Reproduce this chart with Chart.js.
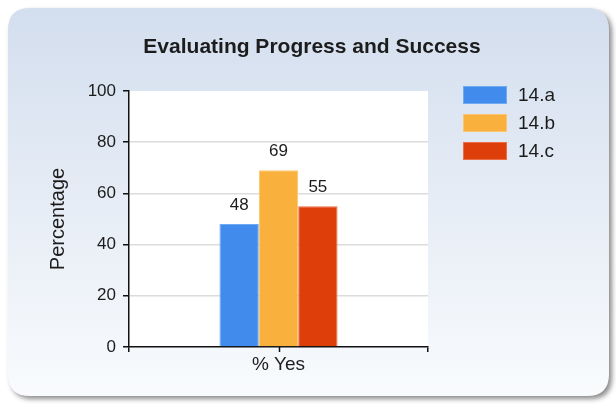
<!DOCTYPE html>
<html>
<head>
<meta charset="utf-8">
<script src="https://cdn.jsdelivr.net/npm/chart.js@4.4.1/dist/chart.umd.min.js"></script>
<style>
  html, body { margin: 0; padding: 0; background: #fff; }
  #wrap { width: 616px; height: 408px; }
</style>
</head>
<body>
<div id="wrap"><canvas id="chart" width="616" height="408"></canvas></div>
<script>
const chartTitle = "Evaluating Progress and Success";
const categories = ["% Yes"];
const seriesNames = ["14.a", "14.b", "14.c"];
const seriesA = [48];
const seriesB = [69];
const seriesC = [55];
const seriesColors = ["#418bec", "#f9b03d", "#de3f0a"];
const seriesEdges = ["#70aaf3", "#fcc670", "#ea6d45"];
const yTicks = [0, 20, 40, 60, 80, 100];
const yTitle = "Percentage";

const FONT = "'Liberation Sans', Arial, sans-serif";
const TEXT = "#1c1c1c";
const AXIS = "#111";

Chart.defaults.font.family = FONT;
Chart.defaults.color = TEXT;

function roundRect(ctx, x, y, w, h, r) {
  ctx.beginPath();
  ctx.moveTo(x + r, y);
  ctx.lineTo(x + w - r, y);
  ctx.quadraticCurveTo(x + w, y, x + w, y + r);
  ctx.lineTo(x + w, y + h - r);
  ctx.quadraticCurveTo(x + w, y + h, x + w - r, y + h);
  ctx.lineTo(x + r, y + h);
  ctx.quadraticCurveTo(x, y + h, x, y + h - r);
  ctx.lineTo(x, y + r);
  ctx.quadraticCurveTo(x, y, x + r, y);
  ctx.closePath();
}

// rounded panel with drop shadow, white plot area, title
const panel = {
  id: "panel",
  beforeDraw(chart) {
    const ctx = chart.ctx;
    const a = chart.chartArea;
    ctx.save();
    ctx.shadowColor = "rgba(0,0,0,0.45)";
    ctx.shadowBlur = 5;
    ctx.shadowOffsetX = 3;
    ctx.shadowOffsetY = 3;
    roundRect(ctx, 8, 8, 601, 388, 22);
    const g = ctx.createLinearGradient(0, 8, 0, 396);
    g.addColorStop(0, "#d3deee");
    g.addColorStop(1, "#f9fbfd");
    ctx.fillStyle = g;
    ctx.fill();
    ctx.restore();

    ctx.save();
    ctx.fillStyle = "#fff";
    ctx.fillRect(a.left, a.top, a.right - a.left, a.bottom - a.top);
    ctx.font = "bold 21px " + FONT;
    ctx.fillStyle = TEXT;
    ctx.textAlign = "center";
    ctx.textBaseline = "alphabetic";
    ctx.fillText(chartTitle, 312, 53);
    ctx.restore();
  },
  afterDraw(chart) {
    const ctx = chart.ctx;
    const a = chart.chartArea;
    const xs = chart.scales.x;
    ctx.save();
    // tick mark under each category
    ctx.strokeStyle = AXIS;
    ctx.lineWidth = 1.5;
    xs.ticks.forEach((t, i) => {
      const px = Math.round(xs.getPixelForTick(i)) + 0.5;
      ctx.beginPath();
      ctx.moveTo(px, a.bottom);
      ctx.lineTo(px, a.bottom + 5);
      ctx.stroke();
    });
    // legend
    ctx.font = "19px " + FONT;
    ctx.textAlign = "left";
    ctx.textBaseline = "middle";
    chart.data.datasets.forEach((ds, i) => {
      const y = 86 + i * 28;
      ctx.fillStyle = ds.backgroundColor;
      ctx.fillRect(463, y, 44, 18);
      ctx.strokeStyle = ds.borderColor;
      ctx.lineWidth = 1;
      ctx.strokeRect(463.5, y + 0.5, 43, 17);
      ctx.fillStyle = TEXT;
      ctx.fillText(ds.label, 518, y + 10);
    });
    ctx.restore();
  }
};

// value printed above each bar
const valueLabels = {
  id: "valueLabels",
  afterDatasetsDraw(chart) {
    const ctx = chart.ctx;
    ctx.save();
    ctx.font = "17px " + FONT;
    ctx.fillStyle = TEXT;
    ctx.textAlign = "center";
    ctx.textBaseline = "alphabetic";
    chart.data.datasets.forEach((ds, i) => {
      chart.getDatasetMeta(i).data.forEach((bar, j) => {
        ctx.fillText(String(ds.data[j]), bar.x, bar.y - 14);
      });
    });
    ctx.restore();
  }
};

const allSeries = [seriesA, seriesB, seriesC];

new Chart(document.getElementById("chart"), {
  type: "bar",
  data: {
    labels: categories,
    datasets: allSeries.map((vals, i) => ({
      label: seriesNames[i],
      data: vals,
      backgroundColor: seriesColors[i],
      borderColor: seriesEdges[i],
      borderWidth: 1,
      barPercentage: 1,
      categoryPercentage: 0.395
    }))
  },
  options: {
    responsive: false,
    animation: false,
    layout: { padding: { left: 46, top: 91, right: 188, bottom: 31 } },
    plugins: {
      legend: { display: false },
      title: { display: false },
      tooltip: { enabled: false }
    },
    scales: {
      x: {
        offset: true,
        ticks: { color: TEXT, font: { size: 19 }, padding: 1 },
        grid: {
          offset: true,
          drawOnChartArea: false,
          color: AXIS,
          tickColor: AXIS,
          tickLength: 5,
          lineWidth: 1.5
        },
        border: { color: AXIS, width: 1.5 },
        afterFit: s => { s.height = 30; }
      },
      y: {
        min: 0,
        max: 100,
        afterBuildTicks: s => { s.ticks = yTicks.map(v => ({ value: v })); },
        ticks: { color: TEXT, font: { size: 17 }, padding: 7 },
        grid: {
          color: c => (c.tick && (c.tick.value === 0 || c.tick.value === 100)) ? "rgba(0,0,0,0)" : "#dcdcdc",
          tickColor: AXIS,
          tickLength: 6,
          lineWidth: 1.5
        },
        border: { color: AXIS, width: 1.5 },
        title: {
          display: true,
          text: yTitle,
          color: TEXT,
          font: { size: 20 },
          padding: { top: 0, bottom: 0 }
        },
        afterFit: s => { s.width = 83; }
      }
    }
  },
  plugins: [panel, valueLabels]
});
</script>
</body>
</html>
